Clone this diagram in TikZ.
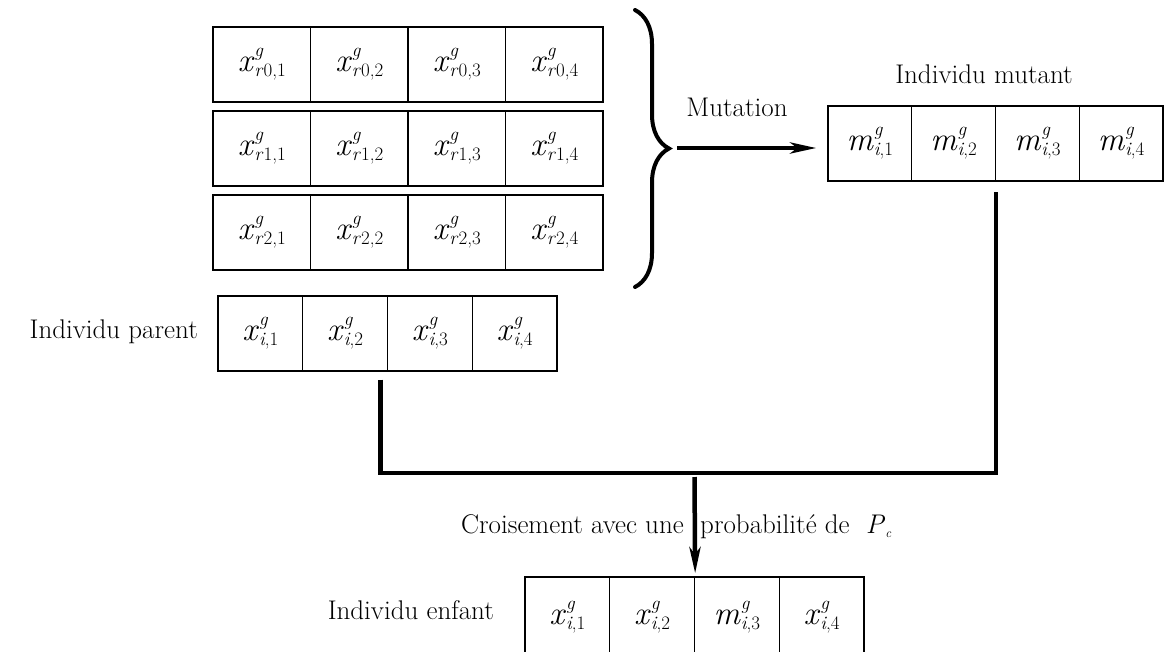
\documentclass[tikz,border=0pt]{standalone}
\usepackage{fontspec}
\usepackage{tikz}
\usetikzlibrary{arrows.meta,decorations.pathreplacing}
\newcommand{\subsz}{\fontsize{19}{20}\selectfont}
\newcommand{\gene}[3]{\textit{#1}\rlap{\raisebox{15pt}{\subsz\textit{g}}}\raisebox{-5pt}{\subsz\textit{#2}#3}}
\tikzset{
  gacell/.style={draw=black,line width=1.3pt,minimum height=75pt,inner sep=0pt,
    font=\fontsize{33}{40}\selectfont},
  galabel/.style={inner sep=0pt,font=\fontsize{27}{32}\selectfont},
  galink/.style={line width=4.5pt,line join=miter},
  gaarrow/.style={line width=4.5pt,-{Stealth[length=26pt,width=11pt,inset=7pt]}},
  gabrace/.style={decorate,decoration={brace,amplitude=34pt},line width=4pt,line cap=round}
}

\begin{document}
\begin{tikzpicture}[x=1pt,y=-1pt]
  \useasboundingbox (0,0) rectangle (1170,651);
  % individus tires au hasard
  \foreach \row in {0,1,2}
    \foreach \col in {1,...,4}
      \node[gacell,minimum width=97.5pt] (x\row-\col) at ({213+97.5*(\col-0.5)},{64.5+84*\row}) {\gene{x}{r}{\row,\col}};
  \foreach \col in {1,...,4}
    \node[gacell,minimum width=83.75pt] (mut\col) at ({828+83.75*(\col-0.5)},143.5) {\gene{m}{i}{,\col}};
  \foreach \col in {1,...,4}
    \node[gacell,minimum width=84.75pt] (par\col) at ({218+84.75*(\col-0.5)},333.5) {\gene{x}{i}{,\col}};
  \foreach \col/\v in {1/x,2/x,3/m,4/x}
    \node[gacell,minimum width=84.75pt,minimum height=80pt] (enf\col) at ({525+84.75*(\col-0.5)},617) {\gene{\v}{i}{,\col}};
  \node[galabel,anchor=base east] (lblparent) at (198,338) {Individu parent};
  \node[galabel,anchor=base] (lblmutant) at (984,83) {Individu mutant};
  \node[galabel,anchor=base] (lblmutation) at (737,116) {Mutation};
  \node[galabel,anchor=base east] (lblenfant) at (494,619) {Individu enfant};
  \node[galabel,anchor=base east] (lblcrois) at (684,533) {Croisement avec une};
  \node[galabel,anchor=base west] (lblproba) at (700,533) {probabilité de\ \ \textit{P}\raisebox{-4pt}{\fontsize{13}{14}\selectfont\textit{c}}};
  % mutation
  \coordinate (bracetop) at (635,10);
  \coordinate (bracebot) at (635,287);
  \coordinate (bracetip) at (677,148);
  \coordinate (mutin) at ([xshift=-11pt]mut1.west);
  \draw[gabrace] (bracetop) -- (bracebot);
  \draw[gaarrow] (bracetip) -- (bracetip -| mutin);
  % croisement
  \coordinate (join) at (694.5,473);
  \draw[galink] ([xshift=-7.5pt,yshift=-8pt]par2.south east) |- (join) -| ([yshift=-10pt]mut2.south east);
  \draw[gaarrow] ([yshift=-4pt]join) -- ([yshift=3pt]enf2.north east);
\end{tikzpicture}
\end{document}
